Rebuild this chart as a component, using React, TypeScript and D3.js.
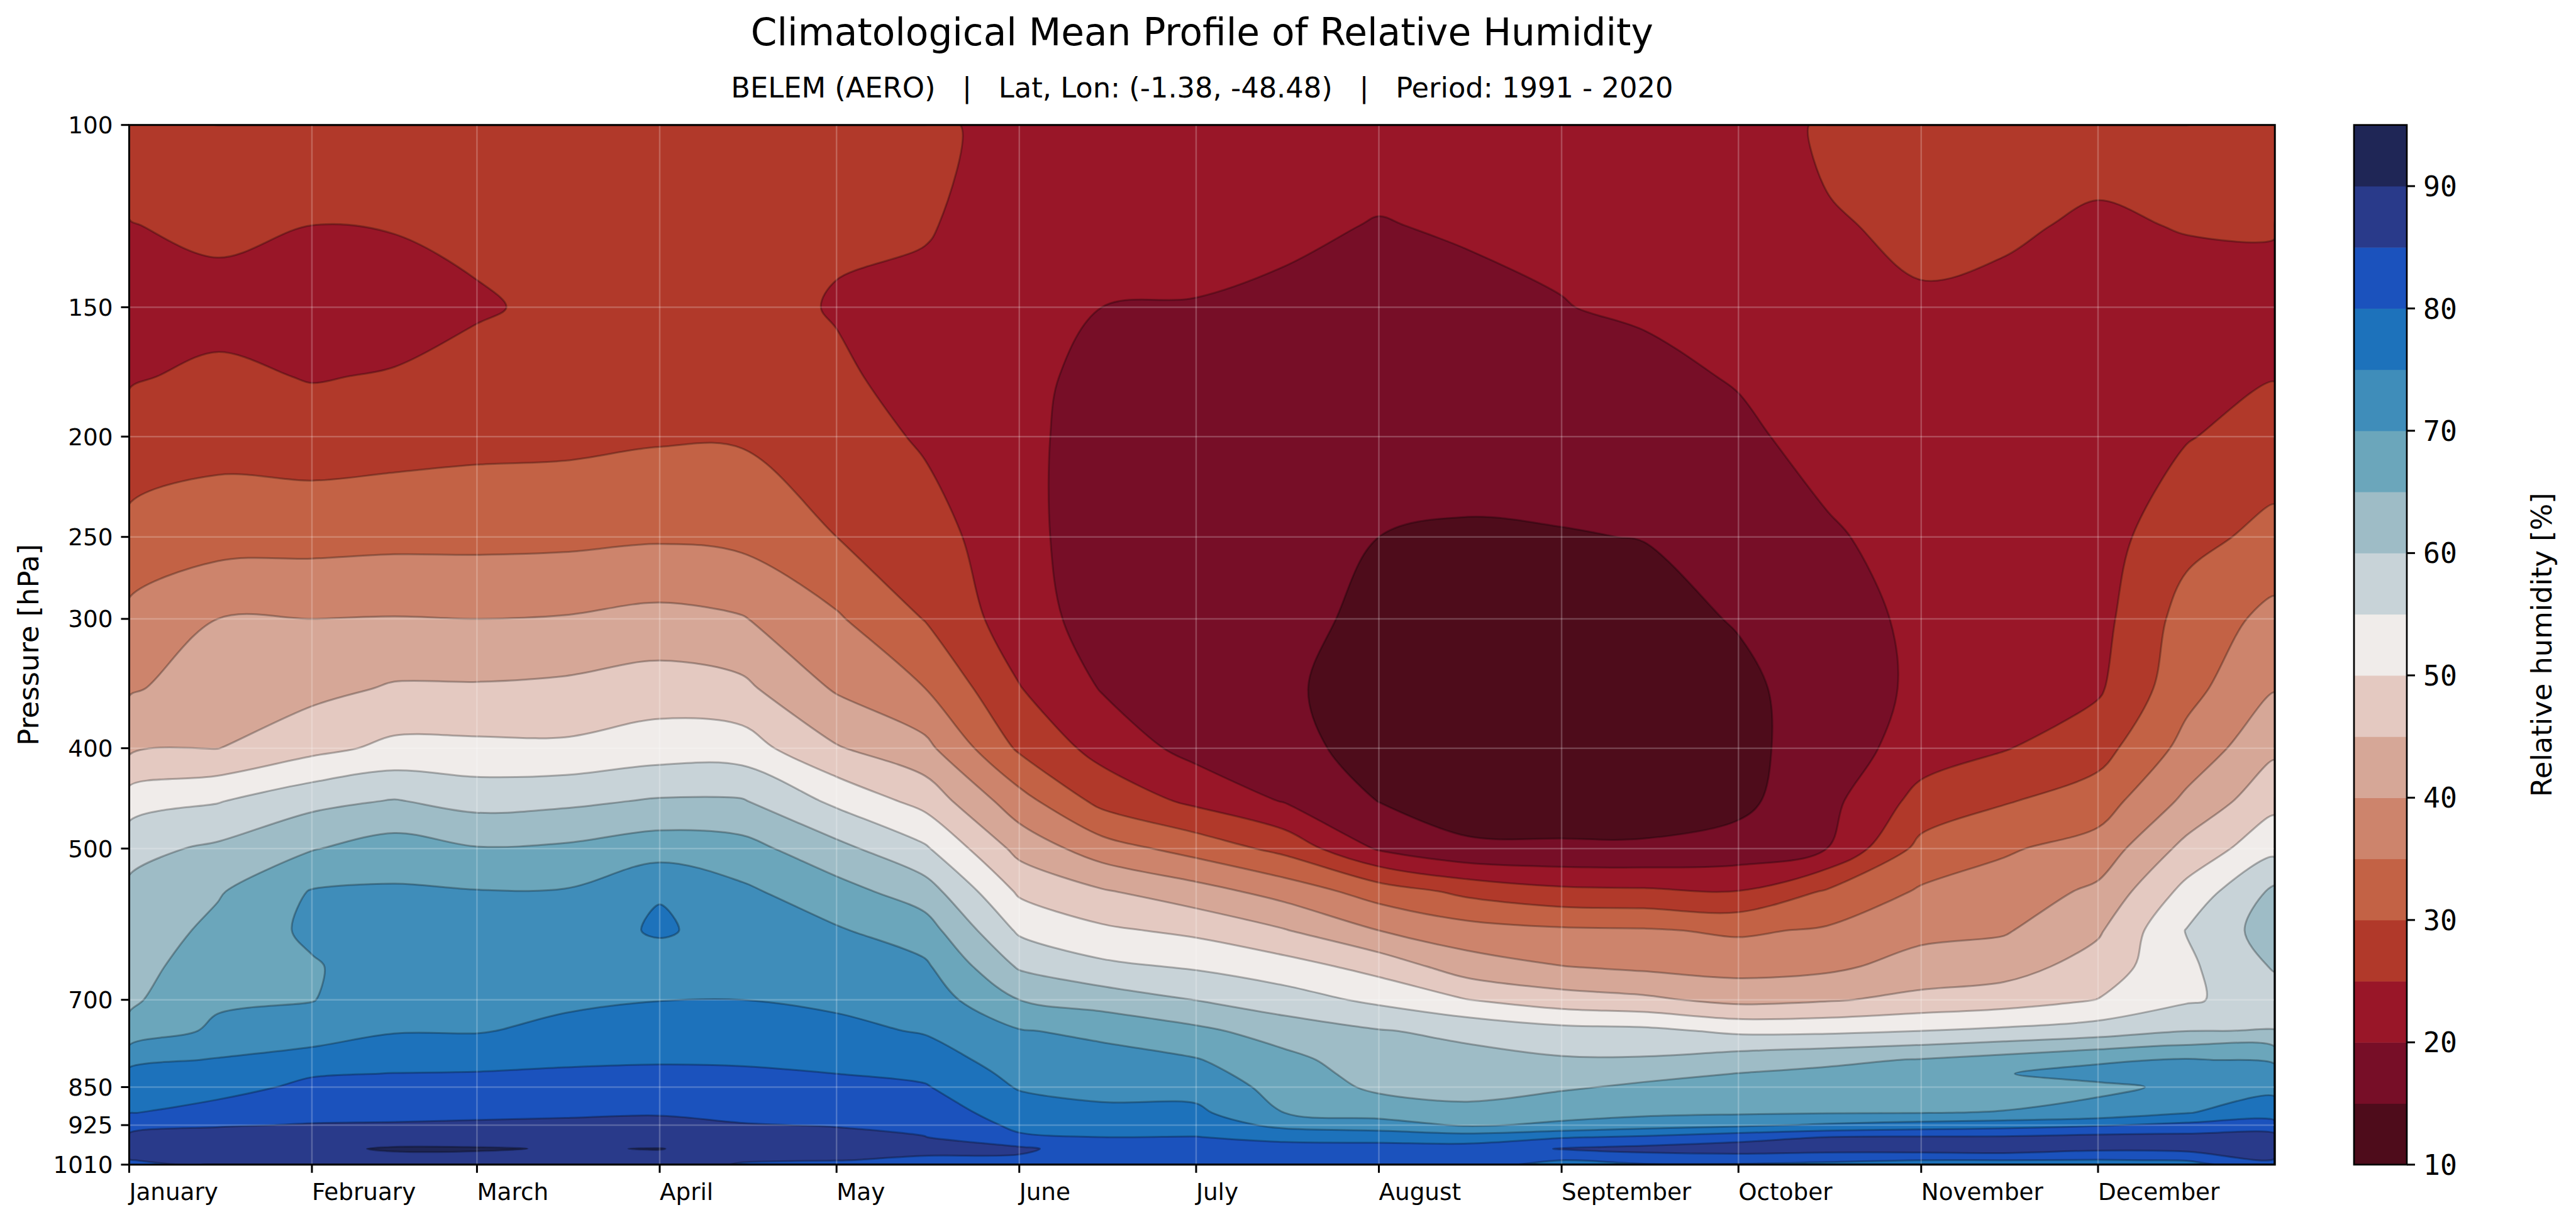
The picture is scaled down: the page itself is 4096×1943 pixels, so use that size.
import React from 'react';
import * as d3 from 'd3';

// Belem (AERO) relative humidity climatology.
// Each profile is one day of year, values top (100 hPa) to bottom (1010 hPa).

const W = 4096;
const H = 1943;

const days = [1, 16, 32, 46, 60, 75, 91, 105, 121, 136, 152, 166, 182, 197, 213, 228, 244, 258, 274, 289, 305, 319, 335, 350, 365];
const levels = [100, 125, 150, 175, 200, 250, 300, 350, 400, 450, 500, 550, 600, 650, 700, 750, 800, 825, 850, 900, 925, 950, 975, 1000, 1010];

const d001 = [28, 24.8, 22, 24.5, 26.9, 31.5, 36.2, 39.4, 43.9, 52.4, 58.5, 60.9, 61.9, 63.2, 64.2, 66.2, 73.8, 75.9, 77.2, 79.8, 83, 86, 87, 84.8, 83];
const d016 = [28, 26.3, 23, 26.1, 28.2, 32.9, 40, 42.6, 44.9, 54.7, 60.9, 64.5, 66.3, 67.7, 69.1, 71.1, 75.3, 76.8, 78.2, 81.9, 84.7, 86.5, 88, 87.5, 86.5];
const d032 = [27.5, 25, 22.5, 24.7, 27.5, 33.2, 40, 43.5, 48.5, 58.6, 64.7, 70.3, 71, 69.5, 69.8, 72.6, 76.9, 79.6, 81.1, 83.9, 85.2, 87, 89, 88, 87];
const d046 = [27, 25.3, 22.5, 25.4, 28, 33.6, 40.2, 45.5, 51.2, 60.3, 67.3, 70.6, 71.7, 72.8, 73.8, 74.7, 78, 80.1, 81.4, 84.1, 85.3, 87.5, 90.5, 88.5, 87.5];
const d060 = [27, 26, 24.5, 26.6, 28.6, 33.6, 40, 45.5, 51.1, 58.3, 65.3, 70.2, 71.5, 72.6, 73.7, 74.7, 78.2, 80.3, 81.6, 84.3, 85.5, 87.5, 90.4, 88.5, 87.5];
const d075 = [28, 27, 26, 26.7, 28.8, 33.8, 40.3, 46, 50.9, 59, 65.8, 70.3, 71.7, 73, 74.2, 76.1, 79.3, 80.6, 82, 84.5, 85.7, 87.5, 89.7, 88.5, 87.5];
const d091 = [28.5, 27.5, 27, 27.2, 29.5, 34.4, 41.4, 47.4, 52.5, 60.5, 67.8, 74.6, 75.8, 72, 74.9, 77.3, 79.6, 80.8, 82.1, 84.7, 86, 87.5, 90.15, 88.5, 87.5];
const d105 = [28.5, 28, 27.5, 27.5, 29.5, 33.7, 40.3, 46.1, 52.4, 60.4, 66.8, 70.9, 72.4, 73.7, 75, 77.3, 79.5, 80.6, 81.8, 84.1, 85.2, 86.5, 88, 85.5, 84.5];
const d121 = [27.5, 26, 24.5, 26.1, 27.6, 30, 35.6, 39.4, 45.4, 53.9, 61.5, 66.9, 70.5, 72.4, 74.1, 76.2, 78.8, 80, 81.3, 83.7, 84.8, 86, 86.5, 85.1, 84];
const d136 = [26.5, 25.5, 23.5, 22.5, 24.3, 27.3, 29.8, 35, 41.4, 48.3, 55.7, 62.4, 67.3, 70.8, 72.8, 74.6, 77.5, 79, 80.4, 82.8, 83.9, 85.1, 85.8, 84.5, 83.5];
const d152 = [22.5, 22, 21.8, 21.4, 21.2, 21.5, 22.2, 25.2, 29.2, 37, 43.4, 49.2, 54.2, 59.4, 65, 70.3, 72.5, 73.6, 74.6, 77.5, 79, 80.6, 86, 84, 82];
const d166 = [22, 21, 20, 18.5, 18, 17.5, 18, 19.7, 23.2, 28.5, 37.3, 45.5, 50.9, 56.1, 62.7, 68.9, 71.7, 72.7, 73.6, 76, 78, 80, 82, 82.5, 81.5];
const d182 = [23, 21.5, 19.8, 18, 17.5, 17, 17, 17.5, 18.3, 23.9, 33, 42, 48.9, 54.4, 59.9, 66.1, 70.3, 71.7, 73.1, 76.1, 78.1, 80.1, 81.5, 82, 82];
const d197 = [22.5, 20.8, 19.2, 17.5, 16.5, 16, 16.2, 15.5, 16, 19.7, 28.5, 38, 45.3, 52.1, 57.2, 62.7, 66.4, 67.3, 68.2, 70, 73.6, 78.7, 81.8, 82.5, 82];
const d213 = [22, 19.8, 18.3, 17, 16.2, 15, 14, 13.5, 13.8, 14.9, 19.4, 32.7, 40, 48.2, 53.9, 60.3, 62.2, 63.1, 64, 68, 72.2, 78.3, 81.8, 82.5, 82.5];
const d228 = [22, 20.5, 18.8, 17.6, 16.6, 14.6, 13, 12.5, 12.5, 13.3, 15.6, 28.7, 37.1, 42.3, 50.1, 58.8, 61.5, 62.6, 63.3, 66.3, 69.4, 77.5, 82, 82.5, 82];
const d244 = [21.5, 20.6, 19.9, 17.9, 16.8, 14.8, 13, 12.3, 12.5, 13.5, 15.4, 26.2, 35.8, 40.1, 47.2, 56.7, 60.5, 62.5, 64.4, 68.3, 70.9, 79.5, 85.3, 80, 78];
const d258 = [21.5, 21, 20.5, 19, 18, 15.1, 13.5, 12.5, 12.5, 13.5, 15.4, 25.8, 35.5, 39, 46, 56.2, 60.5, 63.7, 65.8, 68.9, 72.7, 80.7, 86.5, 82, 79.5];
const d274 = [21, 20.8, 20.5, 20.3, 19.2, 17, 15.3, 14, 13.8, 13.8, 16.8, 25.1, 34.3, 38.1, 43.5, 54, 62.5, 65.1, 66.5, 69.4, 74, 83.1, 87.5, 81.8, 79.6];
const d289 = [26, 24.5, 23.2, 22.2, 21.4, 19.5, 18, 17, 17, 18.5, 20, 30.5, 35.6, 38.9, 44.5, 54, 64, 66, 67.3, 69.7, 75.7, 85, 87, 80.8, 79];
const d305 = [27, 26, 24.5, 23.5, 22.5, 21.5, 21, 21, 22.5, 26.7, 31.5, 35.6, 38.6, 42, 46.3, 55, 65.3, 66.5, 67.7, 69.9, 77, 85.5, 87.5, 80, 78];
const d319 = [27.5, 25.5, 24.2, 23.5, 23, 22.5, 22.5, 23.5, 24.7, 29.6, 34.4, 37.2, 39.5, 42.8, 47.5, 56, 67, 69.8, 68, 70.2, 78, 85.5, 88, 80, 78];
const d335 = [26.5, 24.5, 23.5, 23, 22.8, 22.8, 23.3, 24.3, 28, 32.5, 37, 41, 44.3, 47.2, 50.1, 57.4, 69.3, 71.5, 69.1, 71.4, 79.5, 86.5, 86, 79.8, 78];
const d350 = [27, 25.2, 23.5, 23, 24.7, 28.5, 32, 33.4, 36.6, 41.1, 46.5, 51.5, 55.2, 54, 54.3, 59.9, 70.4, 71.8, 70.8, 74.8, 81.3, 86.5, 86.5, 80.2, 78.5];
const d365 = [27, 25.5, 22.5, 24.8, 27.1, 31.4, 36.4, 39.7, 44, 48.5, 53.5, 61, 62.5, 60.5, 57.5, 60.1, 69, 72.2, 73.5, 77.6, 81.5, 86.5, 88, 84.5, 83];

const profiles = [d001, d016, d032, d046, d060, d075, d091, d105, d121, d136, d152, d166, d182,
  d197, d213, d228, d244, d258, d274, d289, d305, d319, d335, d350, d365];

const thresholds = [10, 15, 20, 25, 30, 35, 40, 45, 50, 55, 60, 65, 70, 75, 80, 85, 90];
const bandColors = ['#4e0c1b', '#770e27', '#991628', '#b1392a', '#c36245', '#cd846c', '#d6a797', '#e4c9c1',
  '#f0ecea', '#c8d3d8', '#9ebcc6', '#6ba6bb', '#3f8dba', '#1d72bb', '#1b52bd', '#293a8a', '#1f2656'];
const cbTicks = [10, 20, 30, 40, 50, 60, 70, 80, 90];

const monthStarts = [1, 32, 60, 91, 121, 152, 182, 213, 244, 274, 305, 335];
const monthNames = ['January', 'February', 'March', 'April', 'May', 'June', 'July', 'August',
  'September', 'October', 'November', 'December'];
const pressureTicks = [100, 150, 200, 250, 300, 400, 500, 700, 850, 925, 1010];

// layout (reference px * 0.895)
const plot = { left: 205.4, right: 3617.2, top: 198.7, bottom: 1851.8 };
const cb = { left: 3743, right: 3827 };
const FONT = 'DejaVu Sans, Verdana, sans-serif';
const MONO = 'DejaVu Sans Mono, monospace';

export default function App() {
  const x = d3.scaleLinear().domain([1, 365]).range([plot.left, plot.right]);
  const y = d3.scaleLog().domain([100, 1010]).range([plot.top, plot.bottom]);
  const cbY = d3.scaleLinear().domain([10, 95]).range([plot.bottom, plot.top]);

  const n = days.length;
  const m = levels.length;
  const values: number[] = new Array(n * m);
  for (let j = 0; j < m; j++) {
    for (let i = 0; i < n; i++) values[i + j * n] = profiles[i][j];
  }
  const bands = d3.contours().size([n, m]).thresholds(thresholds)(values);

  // grid coords -> day / pressure (samples sit at cell centres)
  const gridDay = (gx: number) => {
    const k = Math.max(0, Math.min(n - 1, gx - 0.5));
    const i = Math.min(n - 2, Math.floor(k));
    return days[i] + (k - i) * (days[i + 1] - days[i]);
  };
  const gridP = (gy: number) => {
    const k = Math.max(0, Math.min(m - 1, gy - 0.5));
    const j = Math.min(m - 2, Math.floor(k));
    const a = Math.log(levels[j]);
    const b = Math.log(levels[j + 1]);
    return Math.exp(a + (k - j) * (b - a));
  };

  // smooth each ring with a closed Catmull-Rom curve
  const ringLine = d3.line().curve(d3.curveCatmullRomClosed.alpha(0.5));
  const bandPath = (geom: any) => {
    let d = '';
    geom.coordinates.forEach((poly: number[][][]) => {
      poly.forEach((ring: number[][]) => {
        const pts: [number, number][] = [];
        ring.slice(0, -1).forEach(([gx, gy]) => {
          const p: [number, number] = [x(gridDay(gx)), y(gridP(gy))];
          const last = pts[pts.length - 1];
          if (!last || Math.abs(last[0] - p[0]) > 0.3 || Math.abs(last[1] - p[1]) > 0.3) pts.push(p);
        });
        if (pts.length > 2) d += ringLine(pts);
      });
    });
    return d;
  };
  const paths = bands.map(bandPath);

  const tick = 13;

  return (
    <svg width={W} height={H} style={{ position: 'absolute', left: 0, top: 0 }}
      xmlns="http://www.w3.org/2000/svg">
      <rect width={W} height={H} fill="#fff" />
      <defs>
        <clipPath id="plotClip">
          <rect x={plot.left} y={plot.top} width={plot.right - plot.left} height={plot.bottom - plot.top} />
        </clipPath>
      </defs>

      <text x={(plot.left + plot.right) / 2} y={71.6} fontFamily={FONT} fontSize={59.7} textAnchor="middle">
        Climatological Mean Profile of Relative Humidity
      </text>
      <text x={(plot.left + plot.right) / 2} y={154.8} fontFamily={FONT} fontSize={44.75} textAnchor="middle"
        style={{ whiteSpace: 'pre' }}>
        {'BELEM (AERO)   |   Lat, Lon: (-1.38, -48.48)   |   Period: 1991 - 2020'}
      </text>

      <g clipPath="url(#plotClip)">
        <rect x={plot.left} y={plot.top} width={plot.right - plot.left} height={plot.bottom - plot.top}
          fill={bandColors[0]} />
        {paths.map((d, i) => (
          <path key={'f' + i} d={d} fill={bandColors[i]} />
        ))}
        {paths.slice(1).map((d, i) => (
          <path key={'l' + i} d={d} fill="none" stroke="#000" strokeOpacity={0.28}
            strokeWidth={3} strokeLinejoin="round" />
        ))}
        {monthStarts.map(d => (
          <line key={'gx' + d} x1={x(d)} x2={x(d)} y1={plot.top} y2={plot.bottom}
            stroke="#fff" strokeOpacity={0.22} strokeWidth={2.5} />
        ))}
        {pressureTicks.map(p => (
          <line key={'gy' + p} x1={plot.left} x2={plot.right} y1={y(p)} y2={y(p)}
            stroke="#fff" strokeOpacity={0.22} strokeWidth={2.5} />
        ))}
      </g>
      <rect x={plot.left} y={plot.top} width={plot.right - plot.left} height={plot.bottom - plot.top}
        fill="none" stroke="#000" strokeWidth={3} />

      {/* y axis */}
      {pressureTicks.map(p => (
        <g key={'yt' + p}>
          <line x1={plot.left - tick} x2={plot.left} y1={y(p)} y2={y(p)} stroke="#000" strokeWidth={3} />
          <text x={plot.left - tick - 13} y={y(p)} dy="0.36em" textAnchor="end" fontFamily={FONT} fontSize={37.3}>
            {p}
          </text>
        </g>
      ))}
      <text transform={`translate(61,${(plot.top + plot.bottom) / 2}) rotate(-90)`} textAnchor="middle"
        fontFamily={FONT} fontSize={44.75}>
        Pressure [hPa]
      </text>

      {/* x axis */}
      {monthStarts.map((d, i) => (
        <g key={'xt' + d}>
          <line x1={x(d)} x2={x(d)} y1={plot.bottom} y2={plot.bottom + tick} stroke="#000" strokeWidth={3} />
          <text x={x(d)} y={1908} fontFamily={FONT} fontSize={37.3}>{monthNames[i]}</text>
        </g>
      ))}

      {/* colorbar */}
      {thresholds.map((t, i) => (
        <rect key={'cb' + t} x={cb.left} width={cb.right - cb.left} y={cbY(t + 5)} height={cbY(t) - cbY(t + 5) + 0.5}
          fill={bandColors[i]} />
      ))}
      <rect x={cb.left} y={plot.top} width={cb.right - cb.left} height={plot.bottom - plot.top}
        fill="none" stroke="#000" strokeWidth={2.7} />
      {cbTicks.map(t => (
        <g key={'ct' + t}>
          <line x1={cb.right} x2={cb.right + tick} y1={cbY(t)} y2={cbY(t)} stroke="#000" strokeWidth={3} />
          <text x={cb.right + tick + 13} y={cbY(t)} dy="0.36em" fontFamily={MONO} fontSize={44.75}>{t}</text>
        </g>
      ))}
      <text transform={`translate(4057,${(plot.top + plot.bottom) / 2}) rotate(-90)`} textAnchor="middle"
        fontFamily={FONT} fontSize={44.75}>
        Relative humidity [%]
      </text>
    </svg>
  );
}
